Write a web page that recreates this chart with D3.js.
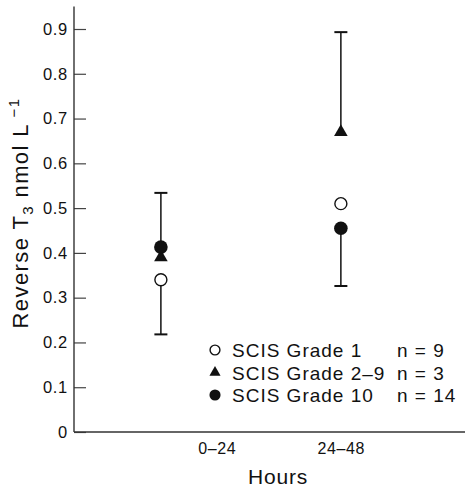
<!DOCTYPE html>
<html>
<head>
<meta charset="utf-8">
<script src="https://cdn.jsdelivr.net/npm/d3@7"></script>
<style>
  body { margin: 0; background: #fff; }
  svg { display: block; font-family: "Liberation Sans", Arial, sans-serif; }
</style>
</head>
<body>
<svg width="465" height="488"></svg>
<script>
// data
const periods = ["0–24", "24–48"];
const periodTicks = [1, 2];
const pointPos = [0.55, 2];          // x position of each period's points
const grade1 = [0.34, 0.51];
const grade2to9 = [0.39, 0.67];
const grade10 = [0.413, 0.455];
const grade1Lower = [0.218, null];   // error bars (one-sided)
const grade2to9Upper = [null, 0.893];
const grade10Upper = [0.534, null];
const grade10Lower = [null, 0.326];
const legendNames = ["SCIS Grade 1", "SCIS Grade 2–9", "SCIS Grade 10"];
const legendN = ["n = 9", "n = 3", "n = 14"];
const yTicks = [0, 0.1, 0.2, 0.3, 0.4, 0.5, 0.6, 0.7, 0.8, 0.9];

const svg = d3.select("svg");
const width = +svg.attr("width");
const ink = "#111";

const x = d3.scaleLinear().domain([-0.15, 3]).range([74, width]);
const y = d3.scaleLinear().domain([0, 0.9]).range([432, 29]);

// y axis
const yAxis = svg.append("g")
  .attr("transform", `translate(${x(-0.15)},0)`)
  .call(d3.axisLeft(y).tickValues(yTicks).tickSize(-12).tickPadding(6)
    .tickFormat(d => d === 0 ? "0" : d.toFixed(1)));
yAxis.select(".domain").remove();
yAxis.selectAll("line").attr("stroke", "#444").attr("stroke-width", 1.2);
yAxis.selectAll("text").attr("font-size", 16.5).attr("letter-spacing", 0.7)
  .attr("fill", ink).attr("font-family", null);

svg.append("line")
  .attr("x1", x(-0.15)).attr("x2", x(-0.15))
  .attr("y1", y(0)).attr("y2", y(0.95))
  .attr("stroke", "#333").attr("stroke-width", 1.4);

// x axis
const xAxis = svg.append("g")
  .attr("transform", `translate(0,${y(0)})`)
  .call(d3.axisBottom(x).tickValues(periodTicks).tickSize(0).tickPadding(11)
    .tickFormat((d, i) => periods[i]));
xAxis.select(".domain").remove();
xAxis.selectAll("text").attr("font-size", 16).attr("letter-spacing", 0.6)
  .attr("fill", ink).attr("font-family", null);

svg.append("line")
  .attr("x1", x(-0.15)).attr("x2", width)
  .attr("y1", y(0)).attr("y2", y(0))
  .attr("stroke", "#333").attr("stroke-width", 1.4);

// axis titles
svg.append("text")
  .attr("x", 278).attr("y", 484)
  .attr("text-anchor", "middle")
  .attr("font-size", 21).attr("letter-spacing", 0.8).attr("fill", ink)
  .text("Hours");

const yTitle = svg.append("text")
  .attr("transform", `translate(28,213) rotate(-90)`)
  .attr("text-anchor", "middle")
  .attr("font-size", 22).attr("letter-spacing", 1.4).attr("fill", ink);
yTitle.append("tspan").text("Reverse T");
yTitle.append("tspan").attr("font-size", 15).attr("dy", 5).text("3");
yTitle.append("tspan").attr("dy", -5).text(" nmol L");
yTitle.append("tspan").attr("font-size", 15).attr("dy", -9).text(" −1");

// error bars
const capW = 6.5;
function errorBar(values, ends) {
  ends.forEach((e, i) => {
    if (e == null) return;
    const cx = x(pointPos[i]);
    svg.append("line")
      .attr("x1", cx).attr("x2", cx)
      .attr("y1", y(values[i])).attr("y2", y(e))
      .attr("stroke", ink).attr("stroke-width", 1.5);
    svg.append("line")
      .attr("x1", cx - capW).attr("x2", cx + capW)
      .attr("y1", y(e)).attr("y2", y(e))
      .attr("stroke", ink).attr("stroke-width", 2);
  });
}
errorBar(grade1, grade1Lower);
errorBar(grade2to9, grade2to9Upper);
errorBar(grade10, grade10Upper);
errorBar(grade10, grade10Lower);

// markers
function drawMarker(g, kind, cx, cy, k) {
  if (kind === "open") {
    g.append("circle").attr("cx", cx).attr("cy", cy).attr("r", 6 * k)
      .attr("fill", "#fff").attr("stroke", ink).attr("stroke-width", 1.4);
  } else if (kind === "tri") {
    g.append("path").attr("d", d3.symbol().type(d3.symbolTriangle).size(80 * k * k)())
      .attr("transform", `translate(${cx},${cy})`).attr("fill", ink);
  } else {
    g.append("circle").attr("cx", cx).attr("cy", cy).attr("r", 6.8 * k)
      .attr("fill", ink);
  }
}

const series = [
  { values: grade1, kind: "open" },
  { values: grade2to9, kind: "tri" },
  { values: grade10, kind: "filled" }
];
const marks = svg.append("g");
series.forEach(s => {
  s.values.forEach((v, i) => drawMarker(marks, s.kind, x(pointPos[i]), y(v), 1));
});

// legend
const legend = svg.append("g");
series.forEach((s, i) => {
  const ly = 350 + i * 22.5;
  drawMarker(legend, s.kind, 215, ly, 0.82);
  legend.append("text").attr("x", 232).attr("y", ly + 7)
    .attr("font-size", 19).attr("letter-spacing", 1).attr("fill", ink)
    .text(legendNames[i]);
  legend.append("text").attr("x", 397).attr("y", ly + 7)
    .attr("font-size", 19).attr("letter-spacing", 1).attr("fill", ink)
    .text(legendN[i]);
});
</script>
</body>
</html>
